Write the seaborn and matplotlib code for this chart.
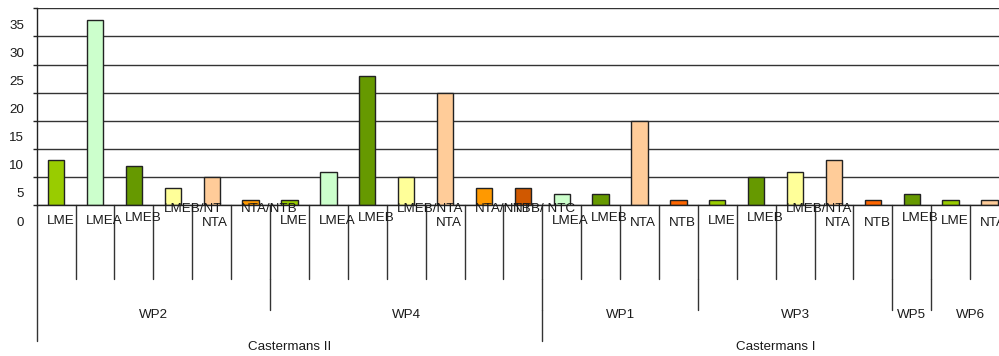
import matplotlib
matplotlib.use("Agg")
import matplotlib.pyplot as plt
import matplotlib.transforms as mtransforms
import seaborn as sns
import pandas as pd

# ---- data ----
categories = ["LME", "LMEA", "LMEB", "LMEB/NT", "NTA", "NTA/NTB",
              "LME", "LMEA", "LMEB", "LMEB/NTA", "NTA", "NTA/NTB", "NTB/ NTC",
              "LMEA", "LMEB", "NTA", "NTB",
              "LME", "LMEB", "LMEB/NTA", "NTA", "NTB",
              "LMEB",
              "LME", "NTA"]
values = [8, 33, 7, 3, 5, 1,
          1, 6, 23, 5, 20, 3, 3,
          2, 2, 15, 1,
          1, 5, 6, 8, 1,
          2,
          1, 1]
wp_groups = ["WP2", "WP4", "WP1", "WP3", "WP5", "WP6"]
wp_sizes = [6, 7, 4, 5, 1, 2]
site_groups = ["Castermans II", "Castermans I"]
site_sizes = [13, 12]
y_ticks = [0, 5, 10, 15, 20, 25, 30, 35]

# ---- styles ----
color_map = {"LME": "#99CC00", "LMEA": "#CCFFCC", "LMEB": "#669900",
             "LMEB/NT": "#FFFF99", "LMEB/NTA": "#FFFF99", "NTA": "#FFCC99",
             "NTA/NTB": "#FF9900", "NTB/ NTC": "#D05800", "NTB": "#FF6600"}
label_y_px = {"LME": 220.5, "LMEA": 220.5, "LMEB": 218, "NTA": 223, "NTB": 223}
FS = 9.6
TXT = "#1a1a1a"

sns.set_style("white")
plt.rcParams["font.family"] = ["Liberation Sans", "DejaVu Sans"]

W, H = 999, 356
fig = plt.figure(figsize=(W / 100, H / 100), dpi=100)
ax_left, ax_right, ax_top, ax_base = 36.7, 1009.0, 8.3, 205.3
ax = fig.add_axes([ax_left / W, 1 - ax_base / H, (ax_right - ax_left) / W, (ax_base - ax_top) / H])

df = pd.DataFrame({"pos": list(range(len(values))), "value": values, "cat": categories})
palette = [color_map[c] for c in categories]
sns.barplot(data=df, x="pos", y="value", hue="pos", palette=palette, legend=False,
            width=0.42, edgecolor="#222222", linewidth=1.0, ax=ax, saturation=1)

n = len(values)
ax.set_xlim(-0.5, n - 0.5)
ax.set_ylim(0, 35)
ax.set_xlabel("")
ax.set_ylabel("")
ax.set_xticks([])
ax.set_yticks(y_ticks)
ax.set_yticklabels([str(v) for v in y_ticks], fontsize=FS, color=TXT)
ax.tick_params(axis="y", left=True, length=3, width=1, color="#222222", pad=6)
ax.yaxis.grid(True, color="#333333", linewidth=1)
ax.set_axisbelow(True)
for s in ["top", "right"]:
    ax.spines[s].set_visible(False)
ax.spines["left"].set_color("#222222")
ax.spines["bottom"].set_color("#222222")
ax.spines["left"].set_linewidth(1)
ax.spines["bottom"].set_linewidth(1)

# shift y tick labels down half an interval, like the reference
off = mtransforms.ScaledTranslation(0, -15.7 / 100, fig.dpi_scale_trans)
for lab in ax.get_yticklabels():
    lab.set_transform(lab.get_transform() + off)

plot_h = ax_base - ax_top
def yfrac(px):
    return -(px - ax_base) / plot_h

tr = ax.get_xaxis_transform()
cat_w_px = (ax_right - ax_left) / n
line_kw = dict(transform=tr, clip_on=False, color="#333333", linewidth=1)

# level-1 separators
for i in range(1, n):
    ax.plot([i - 0.5, i - 0.5], [0, yfrac(279)], **line_kw)
# left axis extension
ax.plot([-0.5, -0.5], [0, yfrac(341)], **line_kw)

# category labels
for i, c in enumerate(categories):
    ypx = 209 if "/" in c else label_y_px.get(c, 220)
    ax.text(i - 0.5 + 10 / cat_w_px, yfrac(ypx), c, transform=tr, ha="left", va="center",
            fontsize=FS, color=TXT, clip_on=False)

# WP groups
start = 0
for g, s in zip(wp_groups, wp_sizes):
    end = start + s
    if 0 < end < n:
        ax.plot([end - 0.5, end - 0.5], [yfrac(279), yfrac(310)], **line_kw)
    ax.text((start + end - 1) / 2, yfrac(315), g, transform=tr, ha="center", va="center",
            fontsize=FS, color=TXT, clip_on=False)
    start = end

# site groups
start = 0
for g, s in zip(site_groups, site_sizes):
    end = start + s
    if 0 < end < n:
        ax.plot([end - 0.5, end - 0.5], [yfrac(310), yfrac(341)], **line_kw)
    ax.text((start + end - 1) / 2, yfrac(347), g, transform=tr, ha="center", va="center",
            fontsize=FS, color=TXT, clip_on=False)
    start = end

fig.savefig("out.png", dpi=100)
